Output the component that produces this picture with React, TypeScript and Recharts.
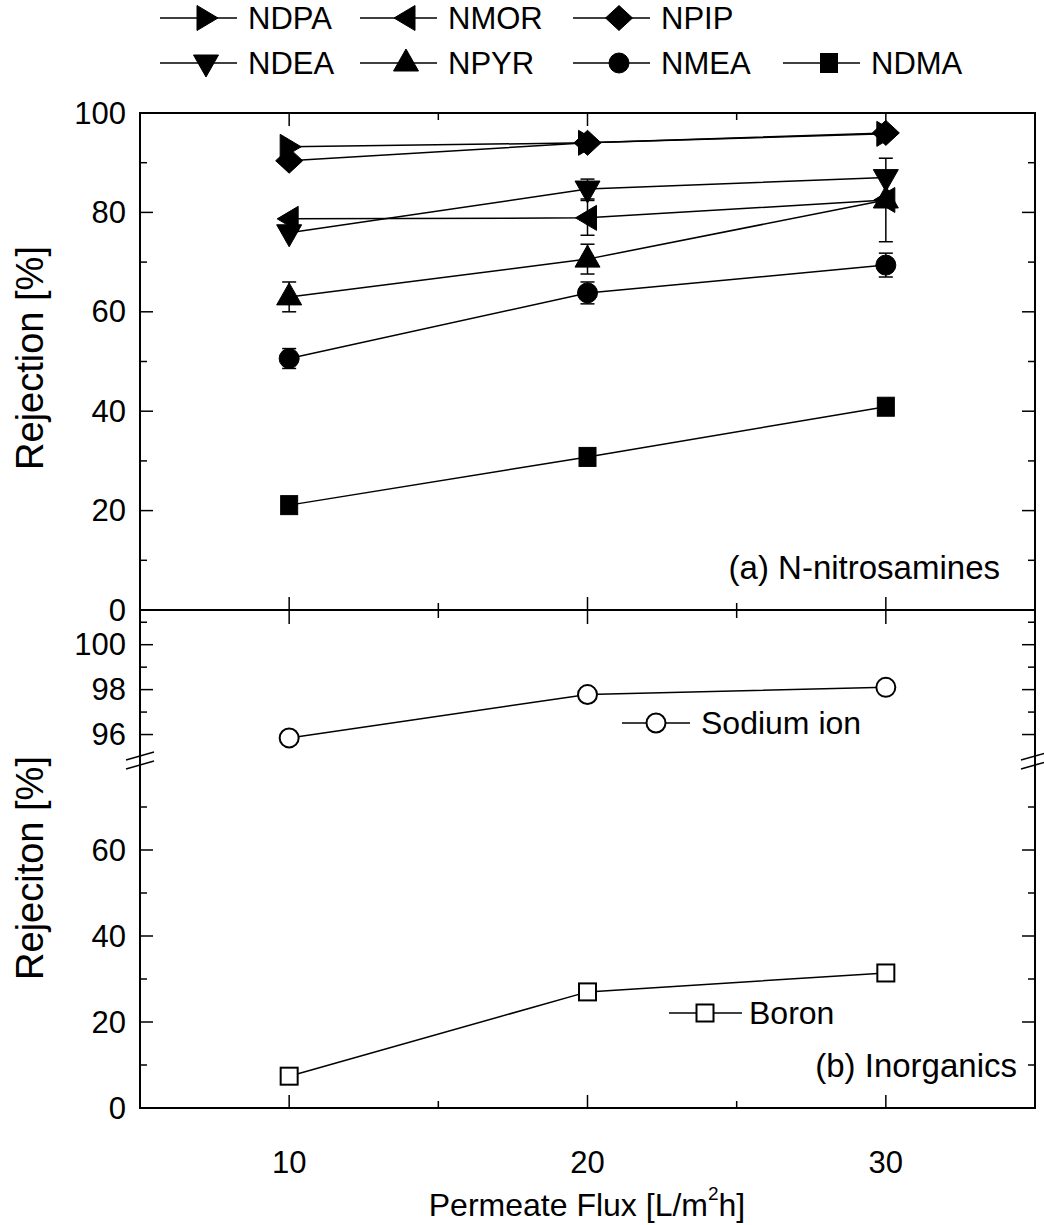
import React from 'react';
import { LineChart, Line, XAxis, YAxis, ErrorBar } from 'recharts';

// permeate flux (L/m2h)
const flux = [10, 20, 30];

// (a) N-nitrosamines rejection [%]
const ndpa = [93.2, 94.0, 95.8];
const nmor = [78.7, 78.9, 82.5];
const npip = [90.4, 94.0, 96.0];
const ndea = [75.9, 84.7, 87.0];
const npyr = [63.0, 70.6, 82.5];
const nmea = [50.6, 63.8, 69.4];
const ndma = [21.1, 30.8, 40.9];

// error bars (+/-)
const ndpaErr = [0, 0, 0];
const nmorErr = [0, 3.5, 0];
const npipErr = [0, 0, 0];
const ndeaErr = [0, 2.0, 0];
const npyrErr = [3.0, 3.0, 8.4];
const nmeaErr = [2.0, 2.2, 2.4];
const ndmaErr = [0, 0, 1.6];

// (b) inorganics
const sodium = [95.85, 97.78, 98.1];
const boron = [7.4, 27.0, 31.4];

const xTicks = [10, 15, 20, 25, 30];
const xLabels = [10, 20, 30];
const topTicks = [0, 10, 20, 30, 40, 50, 60, 70, 80, 90, 100];
const topLabels = [0, 20, 40, 60, 80, 100];
const naTicks = [96, 97, 98, 99, 100, 101];
const naLabels = [96, 98, 100];
const lowTicks = [0, 10, 20, 30, 40, 50, 60, 70];
const lowLabels = [0, 20, 40, 60];

const W = 1044;
const H = 1225;
const PL = 140;
const PR = 1035;
const PANEL_A = { top: 113, bottom: 610 };
const PANEL_NA = { top: 611, bottom: 757 };
const PANEL_B = { top: 764, bottom: 1108 };
const FONT = '"Liberation Sans", Arial, sans-serif';

const series = [
  { name: 'NDPA', values: ndpa, err: ndpaErr, shape: 'right' },
  { name: 'NMOR', values: nmor, err: nmorErr, shape: 'left' },
  { name: 'NPIP', values: npip, err: npipErr, shape: 'diamond' },
  { name: 'NDEA', values: ndea, err: ndeaErr, shape: 'down' },
  { name: 'NPYR', values: npyr, err: npyrErr, shape: 'up' },
  { name: 'NMEA', values: nmea, err: nmeaErr, shape: 'circle' },
  { name: 'NDMA', values: ndma, err: ndmaErr, shape: 'square' },
];

const nitroData = flux.map((f, i) => {
  const row: any = { flux: f };
  series.forEach(s => {
    row[s.name] = s.values[i];
    row[s.name + '_err'] = s.err[i];
  });
  return row;
});
const sodiumData = flux.map((f, i) => ({ flux: f, sodium: sodium[i] }));
const boronData = flux.map((f, i) => ({ flux: f, boron: boron[i] }));

const Marker = ({ shape, cx, cy }: { shape: string; cx: number; cy: number }) => {
  const k = { fill: '#000', stroke: '#000', strokeWidth: 1 };
  const pts = (a: number[][]) => a.map(p => `${cx + p[0]},${cy + p[1]}`).join(' ');
  switch (shape) {
    case 'right':
      return <polygon points={pts([[-9, -12.5], [12, 0], [-9, 12.5]])} {...k} />;
    case 'left':
      return <polygon points={pts([[9, -12.5], [-12, 0], [9, 12.5]])} {...k} />;
    case 'diamond':
      return <polygon points={pts([[0, -12.5], [13.5, 0], [0, 12.5], [-13.5, 0]])} {...k} />;
    case 'down':
      return <polygon points={pts([[-12.5, -8], [12.5, -8], [0, 14]])} {...k} />;
    case 'up':
      return <polygon points={pts([[0, -14], [12.5, 8], [-12.5, 8]])} {...k} />;
    case 'circle':
      return <circle cx={cx} cy={cy} r={10} {...k} />;
    case 'square':
      return <rect x={cx - 8.5} y={cy - 9.5} width={17} height={19} {...k} />;
    case 'opencircle':
      return <circle cx={cx} cy={cy} r={9.5} fill="#fff" stroke="#000" strokeWidth={2} />;
    case 'opensquare':
      return <rect x={cx - 8.5} y={cy - 8.5} width={17} height={17} fill="#fff" stroke="#000" strokeWidth={2} />;
    default:
      return null;
  }
};

const dotFor = (shape: string) => (p: any) => (
  <Marker key={`${shape}-${p.index}`} shape={shape} cx={p.cx} cy={p.cy} />
);

const makeYTick = (labels: number[]) => (props: any) => {
  const { y, payload } = props;
  const major = labels.includes(payload.value);
  const len = major ? 13 : 7;
  return (
    <g>
      <line x1={PL} x2={PL + len} y1={y} y2={y} stroke="#000" strokeWidth={1.5} />
      <line x1={PR - len} x2={PR} y1={y} y2={y} stroke="#000" strokeWidth={1.5} />
      {major && (
        <text x={PL - 14} y={y} textAnchor="end" dominantBaseline="central" fontSize={31} fill="#000">
          {payload.value}
        </text>
      )}
    </g>
  );
};

const makeXTick = (edges: { y: number; dir: number }[], labelY?: number) => (props: any) => {
  const { x, payload } = props;
  const major = xLabels.includes(payload.value);
  const len = major ? 13 : 7;
  return (
    <g>
      {edges.map((e, i) => (
        <line key={i} x1={x} x2={x} y1={e.y} y2={e.y + e.dir * len} stroke="#000" strokeWidth={1.5} />
      ))}
      {major && labelY !== undefined && (
        <text x={x} y={labelY} textAnchor="middle" dominantBaseline="central" fontSize={31} fill="#000">
          {payload.value}
        </text>
      )}
    </g>
  );
};

const layer: React.CSSProperties = { position: 'absolute', left: 0, top: 0, pointerEvents: 'none' };

const marginFor = (p: { top: number; bottom: number }) => ({
  top: p.top,
  bottom: H - p.bottom - 30,
  left: PL - 60,
  right: W - PR,
});

const topLegend = [
  { name: 'NDPA', shape: 'right', x: 160, row: 0 },
  { name: 'NMOR', shape: 'left', x: 360, row: 0 },
  { name: 'NPIP', shape: 'diamond', x: 573, row: 0 },
  { name: 'NDEA', shape: 'down', x: 160, row: 1 },
  { name: 'NPYR', shape: 'up', x: 360, row: 1 },
  { name: 'NMEA', shape: 'circle', x: 573, row: 1 },
  { name: 'NDMA', shape: 'square', x: 783, row: 1 },
];

export default function App() {
  return (
    <div style={{ position: 'absolute', left: 0, top: 0, width: W, height: H, background: '#fff', fontFamily: FONT }}>
      {/* (a) N-nitrosamines */}
      <div style={layer}>
        <LineChart width={W} height={H} data={nitroData} margin={marginFor(PANEL_A)}>
          <XAxis dataKey="flux" type="number" domain={[5, 35]} ticks={xTicks} interval={0} height={30}
            axisLine={false} tickLine={false}
            tick={makeXTick([{ y: PANEL_A.top, dir: 1 }, { y: PANEL_A.bottom, dir: -1 }])} />
          <YAxis type="number" domain={[0, 100]} ticks={topTicks} interval={0} width={60}
            axisLine={false} tickLine={false} tick={makeYTick(topLabels)} />
          {series.map(s => (
            <Line key={s.name} dataKey={s.name} stroke="#000" strokeWidth={1.5} isAnimationActive={false}
              dot={dotFor(s.shape)} activeDot={false}>
              <ErrorBar dataKey={s.name + '_err'} width={7} stroke="#000" strokeWidth={1.5} direction="y" />
            </Line>
          ))}
        </LineChart>
      </div>

      {/* (b) sodium, upper segment */}
      <div style={layer}>
        <LineChart width={W} height={H} data={sodiumData} margin={marginFor(PANEL_NA)}>
          <XAxis dataKey="flux" type="number" domain={[5, 35]} ticks={xTicks} interval={0} height={30}
            axisLine={false} tickLine={false} tick={makeXTick([{ y: PANEL_NA.top, dir: 1 }])} />
          <YAxis type="number" domain={[95, 101.5]} allowDataOverflow ticks={naTicks} interval={0} width={60}
            axisLine={false} tickLine={false} tick={makeYTick(naLabels)} />
          <Line dataKey="sodium" stroke="#000" strokeWidth={1.5} isAnimationActive={false}
            dot={dotFor('opencircle')} activeDot={false} />
        </LineChart>
      </div>

      {/* (b) boron, lower segment */}
      <div style={layer}>
        <LineChart width={W} height={H} data={boronData} margin={marginFor(PANEL_B)}>
          <XAxis dataKey="flux" type="number" domain={[5, 35]} ticks={xTicks} interval={0} height={30}
            axisLine={false} tickLine={false} tick={makeXTick([{ y: PANEL_B.bottom, dir: -1 }], 1162)} />
          <YAxis type="number" domain={[0, 80]} allowDataOverflow ticks={lowTicks} interval={0} width={60}
            axisLine={false} tickLine={false} tick={makeYTick(lowLabels)} />
          <Line dataKey="boron" stroke="#000" strokeWidth={1.5} isAnimationActive={false}
            dot={dotFor('opensquare')} activeDot={false} />
        </LineChart>
      </div>

      {/* frames, break marks, legends and titles */}
      <svg width={W} height={H} style={layer}>
        <rect x={PL} y={PANEL_A.top} width={PR - PL} height={PANEL_A.bottom - PANEL_A.top} fill="none" stroke="#000" strokeWidth={2} />
        <rect x={PL} y={PANEL_A.bottom} width={PR - PL} height={PANEL_B.bottom - PANEL_A.bottom} fill="none" stroke="#000" strokeWidth={2} />
        {[PL, PR].map(bx => (
          <g key={bx}>
            <line x1={bx - 14} y1={760} x2={bx + 14} y2={752} stroke="#000" strokeWidth={1.5} />
            <line x1={bx - 14} y1={769} x2={bx + 14} y2={761} stroke="#000" strokeWidth={1.5} />
          </g>
        ))}

        {topLegend.map(l => {
          const y = l.row === 0 ? 18 : 63;
          return (
            <g key={l.name}>
              <line x1={l.x} x2={l.x + 77} y1={y} y2={y} stroke="#000" strokeWidth={1.5} />
              <Marker shape={l.shape} cx={l.x + 46} cy={y} />
              <text x={l.x + 88} y={y} dominantBaseline="central" fontSize={31}>{l.name}</text>
            </g>
          );
        })}

        <line x1={622} x2={690} y1={723} y2={723} stroke="#000" strokeWidth={1.5} />
        <Marker shape="opencircle" cx={656} cy={723} />
        <text x={701} y={723} dominantBaseline="central" fontSize={32}>Sodium ion</text>

        <line x1={669} x2={742} y1={1013} y2={1013} stroke="#000" strokeWidth={1.5} />
        <Marker shape="opensquare" cx={705} cy={1013} />
        <text x={749} y={1013} dominantBaseline="central" fontSize={32}>Boron</text>

        <text x={1000} y={567} textAnchor="end" dominantBaseline="central" fontSize={33}>(a) N-nitrosamines</text>
        <text x={1017} y={1065} textAnchor="end" dominantBaseline="central" fontSize={33}>(b) Inorganics</text>

        <text transform="translate(30,358) rotate(-90)" textAnchor="middle" dominantBaseline="central" fontSize={38}>Rejection [%]</text>
        <text transform="translate(30,868) rotate(-90)" textAnchor="middle" dominantBaseline="central" fontSize={38}>Rejeciton [%]</text>

        <text x={587} y={1205} textAnchor="middle" dominantBaseline="central" fontSize={32}>
          Permeate Flux [L/m<tspan dy={-12} fontSize={19}>2</tspan><tspan dy={12}>h]</tspan>
        </text>
      </svg>
    </div>
  );
}
